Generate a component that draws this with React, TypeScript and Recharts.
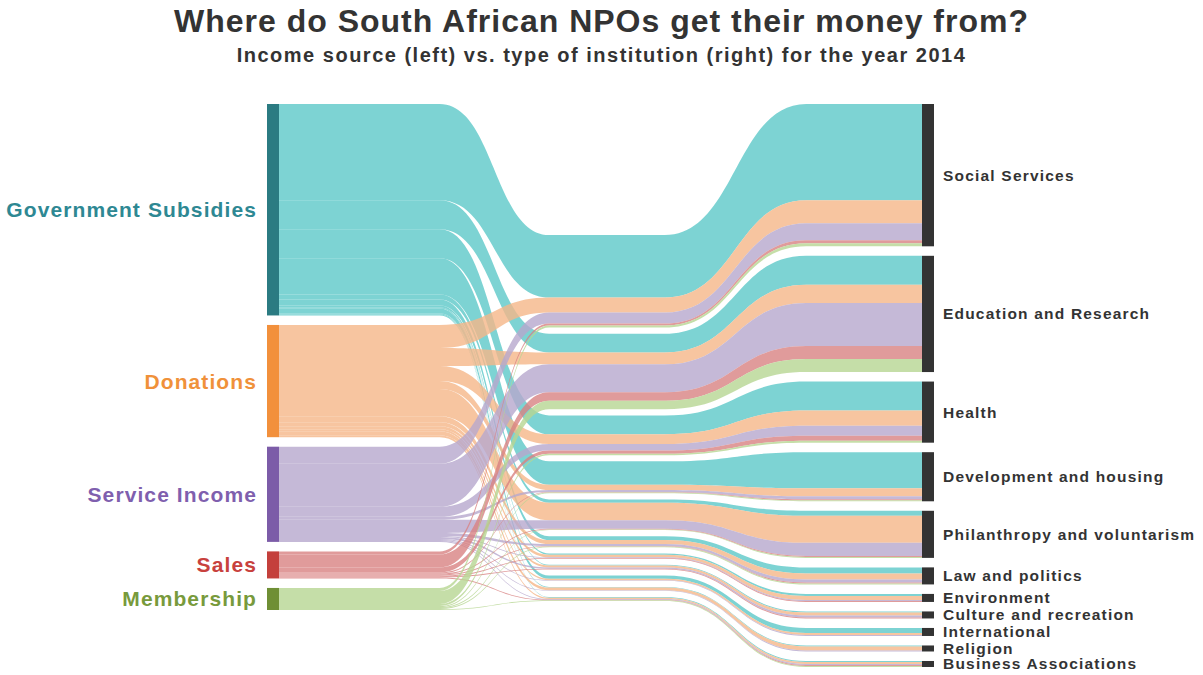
import React from 'react';
import { Sankey } from 'recharts';

// Income sources (left) and institution types (right)
const sources = ['Government Subsidies', 'Donations', 'Service Income', 'Sales', 'Membership'];
const targets = [
  'Social Services',
  'Education and Research',
  'Health',
  'Development and housing',
  'Philanthropy and voluntarism',
  'Law and politics',
  'Environment',
  'Culture and recreation',
  'International',
  'Religion',
  'Business Associations',
];

// flow from each source to each target (same order as targets)
const govSubsidies = [96, 29, 29, 36, 5, 6, 2, 1, 5, 1, 1];
const donations = [23, 18, 15, 8, 27, 6, 4, 3, 2, 4, 2];
const serviceIncome = [17, 43, 10, 3, 13, 3, 1, 2, 1, 1, 1];
const sales = [3, 13, 5, 1, 1, 1, 1, 1, 0, 0, 1];
const membership = [3, 13, 2, 1, 1, 1, 0, 0, 0, 0, 1];

const flows = [govSubsidies, donations, serviceIncome, sales, membership];

const nodeColors: Record<string, string> = {
  'Government Subsidies': '#2b7b82',
  Donations: '#f2903c',
  'Service Income': '#7c5ca8',
  Sales: '#c4403c',
  Membership: '#6f8f35',
};
const labelColors: Record<string, string> = {
  'Government Subsidies': '#2e8893',
  Donations: '#f0913a',
  'Service Income': '#7f5fae',
  Sales: '#c8413d',
  Membership: '#789a3c',
};
const linkColors: Record<string, string> = {
  'Government Subsidies': '#5cc8c8',
  Donations: '#f5b688',
  'Service Income': '#b6a7cd',
  Sales: '#d88282',
  Membership: '#b6d692',
};

const nodes = [...sources, ...targets].map((name) => ({ name }));
const links: { source: number; target: number; value: number }[] = [];
flows.forEach((row, s) => {
  row.forEach((value, t) => {
    if (value > 0) links.push({ source: s, target: sources.length + t, value });
  });
});

const FONT = '"Liberation Sans", Arial, sans-serif';
const TOP = 104;
// links squeeze through the middle of the chart
const MID_TOP = 235;
const SQUEEZE = 0.65;

function SankeyLink(props: any) {
  const { sourceX, targetX, sourceY, targetY, linkWidth, payload } = props;
  const color = linkColors[payload.source.name] || '#ccc';
  const g = targetX - sourceX;
  const x1 = sourceX + 0.25 * g;
  const x2 = sourceX + 0.42 * g;
  const x3 = targetX - 0.4 * g;
  const x4 = targetX - 0.18 * g;
  const c1 = (x1 + x2) / 2;
  const c2 = (x3 + x4) / 2;
  const sy0 = sourceY - linkWidth / 2;
  const sy1 = sourceY + linkWidth / 2;
  const ty0 = targetY - linkWidth / 2;
  const ty1 = targetY + linkWidth / 2;
  const my0 = MID_TOP + (ty0 - TOP) * SQUEEZE;
  const my1 = my0 + linkWidth * SQUEEZE;
  const d = [
    `M${sourceX},${sy0}`,
    `L${x1},${sy0}`,
    `C${c1},${sy0} ${c1},${my0} ${x2},${my0}`,
    `L${x3},${my0}`,
    `C${c2},${my0} ${c2},${ty0} ${x4},${ty0}`,
    `L${targetX},${ty0}`,
    `L${targetX},${ty1}`,
    `L${x4},${ty1}`,
    `C${c2},${ty1} ${c2},${my1} ${x3},${my1}`,
    `L${x2},${my1}`,
    `C${c1},${my1} ${c1},${sy1} ${x1},${sy1}`,
    `L${sourceX},${sy1}`,
    'Z',
  ].join(' ');
  return <path d={d} fill={color} fillOpacity={0.8} stroke="none" />;
}

function SankeyNode(props: any) {
  const { x, y, width, height, payload } = props;
  const isSource = payload.depth === 0;
  const name = payload.name;
  return (
    <g>
      <rect x={x} y={y} width={width} height={height} fill={isSource ? nodeColors[name] : '#333333'} />
      {isSource ? (
        <text
          x={x - 10}
          y={y + height / 2}
          textAnchor="end"
          dominantBaseline="central"
          fontFamily={FONT}
          fontWeight="bold"
          fontSize={21}
          letterSpacing={1.1}
          fill={labelColors[name]}
        >
          {name}
        </text>
      ) : (
        <text
          x={x + width + 9}
          y={y + height / 2}
          dominantBaseline="central"
          fontFamily={FONT}
          fontWeight="bold"
          fontSize={15.5}
          letterSpacing={1.2}
          fill="#333333"
        >
          {name}
        </text>
      )}
    </g>
  );
}

export default function App() {
  return (
    <div
      style={{
        position: 'fixed',
        top: 0,
        left: 0,
        width: 1203,
        height: 675,
        background: '#fff',
        fontFamily: FONT,
      }}
    >
      <style>{'html,body{overflow:hidden} svg{overflow:visible}'}</style>
      <div
        style={{
          position: 'absolute',
          top: 3,
          left: 0,
          width: 1203,
          textAlign: 'center',
          fontSize: 32,
          letterSpacing: 1,
          fontWeight: 'bold',
          color: '#333',
        }}
      >
        Where do South African NPOs get their money from?
      </div>
      <div
        style={{
          position: 'absolute',
          top: 44,
          left: 0,
          width: 1203,
          textAlign: 'center',
          fontSize: 20,
          letterSpacing: 1.5,
          fontWeight: 'bold',
          color: '#333',
        }}
      >
        Income source (left) vs. type of institution (right) for the year 2014
      </div>
      <div style={{ position: 'absolute', top: 0, left: 0 }}>
        <Sankey
          width={1203}
          height={675}
          data={{ nodes, links }}
          nodeWidth={12}
          nodePadding={9.5}
          iterations={0}
          sort={false}
          margin={{ top: TOP, left: 267, right: 269, bottom: 8 }}
          link={<SankeyLink />}
          node={<SankeyNode />}
        />
      </div>
    </div>
  );
}
